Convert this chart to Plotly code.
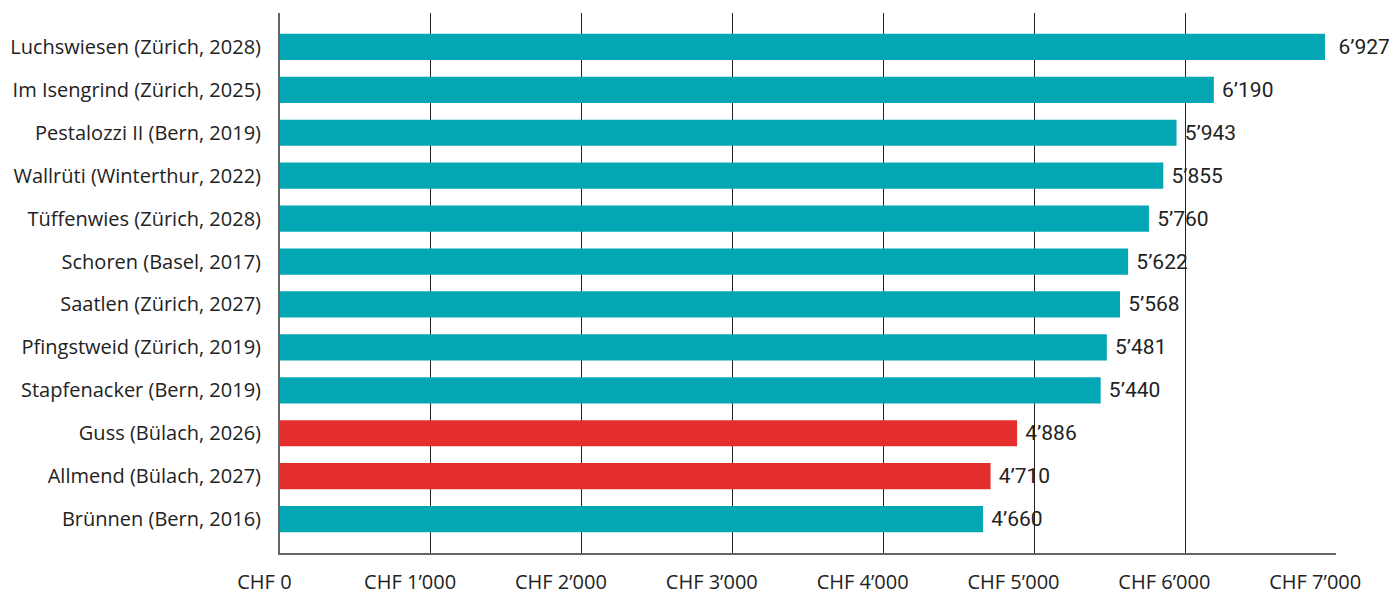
import plotly.graph_objects as go

categories = [
    "Luchswiesen (Zürich, 2028)",
    "Im Isengrind (Zürich, 2025)",
    "Pestalozzi II (Bern, 2019)",
    "Wallrüti (Winterthur, 2022)",
    "Tüffenwies (Zürich, 2028)",
    "Schoren (Basel, 2017)",
    "Saatlen (Zürich, 2027)",
    "Pfingstweid (Zürich, 2019)",
    "Stapfenacker (Bern, 2019)",
    "Guss (Bülach, 2026)",
    "Allmend (Bülach, 2027)",
    "Brünnen (Bern, 2016)",
]
values = [6927, 6190, 5943, 5855, 5760, 5622, 5568, 5481, 5440, 4886, 4710, 4660]
highlight = [False, False, False, False, False, False, False, False, False, True, True, False]
tick_values = [0, 1000, 2000, 3000, 4000, 5000, 6000, 7000]
tick_labels = ["CHF 0", "CHF 1’000", "CHF 2’000", "CHF 3’000", "CHF 4’000",
               "CHF 5’000", "CHF 6’000", "CHF 7’000"]

TEAL = "#02A7B3"
RED = "#E42D2D"
X_MAX = 7000
LABEL_FONT = "Open Sans, sans-serif"

def fmt(v):
    s = f"{v:,}".replace(",", "’")
    pad = "\u00a0" * (2 if v > X_MAX * 0.97 else 1)
    return pad + s

def pad_tick(t):
    return t + "\u00a0" * int(len(t) / 2 + 3.5)

fig = go.Figure(go.Bar(
    x=values,
    y=categories,
    orientation="h",
    marker=dict(color=[RED if h else TEAL for h in highlight], line=dict(width=0)),
    text=[fmt(v) for v in values],
    textposition="outside",
    textfont=dict(family="Roboto", size=21, color="#222222"),
    cliponaxis=False,
    hoverinfo="skip",
))

n = len(categories)
fig.update_layout(
    width=1389, height=584,
    margin=dict(l=272, r=61, t=5, b=39, autoexpand=False),
    paper_bgcolor="white", plot_bgcolor="white",
    bargap=0.39,
    showlegend=False,
    font=dict(family=LABEL_FONT, size=20, color="#222222"),
    xaxis=dict(
        range=[0, X_MAX],
        tickvals=tick_values, ticktext=[pad_tick(t) for t in tick_labels],
        showgrid=True, gridcolor="#222222", gridwidth=1,
        showline=True, linecolor="#666666", linewidth=2,
        zeroline=False, ticks="",
        automargin=False,
        ticklabeloverflow="allow",
        ticklabelstandoff=10,
        tickfont=dict(family=LABEL_FONT, size=20, color="#222222"),
    ),
    yaxis=dict(
        categoryorder="array", categoryarray=categories,
        range=[n - 1 + 0.79, -0.79],
        showgrid=False, zeroline=False,
        showline=True, linecolor="#666666", linewidth=2,
        automargin=False,
        ticks="", ticklabelstandoff=13,
        tickfont=dict(family=LABEL_FONT, size=20, color="#222222"),
    ),
)

fig.write_html("out.html")
